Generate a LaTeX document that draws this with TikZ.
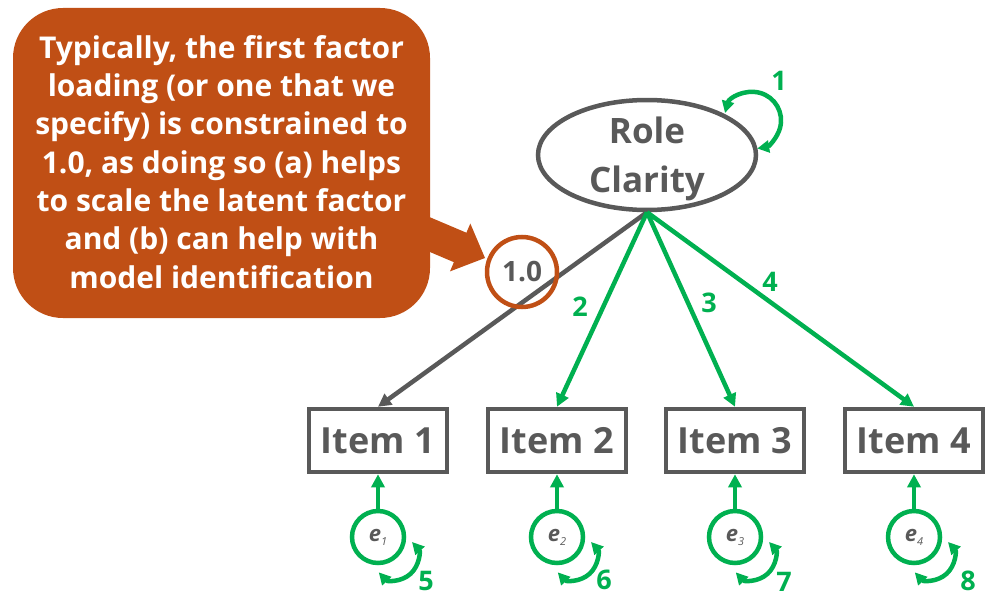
\documentclass[tikz,border=0pt]{standalone}
\usepackage{fontspec}
\setmainfont{Open Sans}
\usetikzlibrary{arrows.meta,shapes.geometric}
\definecolor{sgreen}{HTML}{00B050}
\definecolor{sgray}{HTML}{595959}
\definecolor{sorange}{HTML}{C04F15}
\begin{document}
\begin{tikzpicture}[x=1pt,y=1pt,
  tipg/.style={-{Triangle[length=13pt,width=13pt]}},
  gline/.style={draw=sgreen,line width=4.5pt,tipg},
  grline/.style={draw=sgray,line width=4.5pt,tipg},
  loopline/.style={draw=sgreen,line width=4.5pt,{Triangle[length=12pt,width=12pt]}-{Triangle[length=12pt,width=12pt]}},
  itembox/.style={draw=sgray,line width=4.5pt,minimum width=138pt,minimum height=63pt,inner sep=0pt,text=sgray,font=\bfseries\fontsize{36}{40}\selectfont},
  errc/.style={circle,draw=sgreen,line width=4.5pt,minimum size=52pt,inner sep=0pt,text=sgray},
  lab/.style={text=sgreen,font=\bfseries\fontsize{27}{30}\selectfont,inner sep=0pt},
  rctext/.style={text=sgray,font=\bfseries\fontsize{35}{40}\selectfont,inner sep=0pt,anchor=base}
]
\useasboundingbox (0,0) rectangle (998,-610);

% callout
\begin{scope}[shift={(485,-258)},rotate=-23]
\fill[sorange] (0,0) -- (-27,26) -- (-27,16) -- (-80,16) -- (-80,-16) -- (-27,-16) -- (-27,-26) -- cycle;
\end{scope}
\node[fill=sorange,rounded corners=50pt,minimum width=417pt,minimum height=310pt,inner sep=0pt] (call) at (221.5,-163) {};
\node[text=white,align=center,font=\bfseries\fontsize{30}{38.3}\selectfont,inner sep=0pt] (calltext) at (221.5,-161.8)
 {Typically, the first factor\\loading (or one that we\\specify) is constrained to\\1.0, as doing so (a) helps\\to scale the latent factor\\and (b) can help with\\model identification};

% latent factor
\node[ellipse,draw=sgray,line width=4.5pt,minimum width=218pt,minimum height=110pt,inner sep=0pt] (rc) at (647,-155) {};
\node[rctext] (rct1) at (647,-143) {Role};
\node[rctext] (rct2) at (647,-192) {Clarity};

% items
\node[itembox] (i1) at (378,-440.5) {Item 1};
\node[itembox] (i2) at (557,-440.5) {Item 2};
\node[itembox] (i3) at (735,-440.5) {Item 3};
\node[itembox] (i4) at (914,-440.5) {Item 4};

% loadings
\draw[grline] (rc.south) -- (i1.north);
\draw[gline] (rc.south) -- (i2.north);
\draw[gline] (rc.south) -- (i3.north);
\draw[gline] (rc.south) -- (i4.north);

\node[circle,draw=sorange,line width=4.5pt,minimum size=70pt,inner sep=0pt,text=sgray,font=\bfseries\fontsize{28}{30}\selectfont] (fix) at (522,-272) {1.0};

% factor variance loop
\draw[loopline] ([shift={(78,42)}]rc.center) arc[start angle=165, end angle=-80.5, radius=28.5];
\node[lab] (l1) at (779,-81) {1};
\node[lab] (l2) at (580,-307) {2};
\node[lab] (l3) at (709,-303) {3};
\node[lab] (l4) at (770,-282) {4};

% errors
\foreach \n/\x in {1/378,2/557,3/735,4/914}{
  \node[errc] (e\n) at (\x,-537) {{\bfseries\itshape\fontsize{22}{22}\selectfont e}{\itshape\fontsize{11}{11}\selectfont\raisebox{-4pt}{\n}}};
  \draw[gline] (e\n.north) -- (i\n.south);
  \draw[loopline] ([shift={(34,-5)}]e\n.center) arc[start angle=42.4, end angle=-137.6, radius=22.5];
}
\node[lab] (l5) at (426,-581) {5};
\node[lab] (l6) at (604,-580) {6};
\node[lab] (l7) at (784,-582) {7};
\node[lab] (l8) at (968,-581) {8};
\end{tikzpicture}
\end{document}
